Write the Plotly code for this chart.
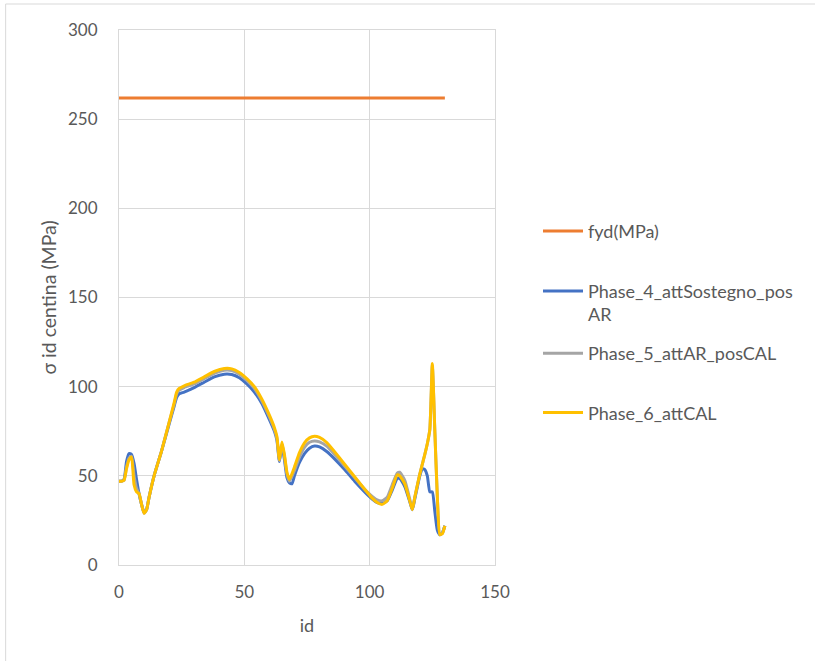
import plotly.graph_objects as go

# Design strength line
fyd_id = [0, 130]
fyd_val = [261.9, 261.9]

# Phase_4_attSostegno_posAR
p4_id = [0, 1, 2, 3, 4, 5, 6, 7, 8, 9, 10, 11, 12, 14, 17, 20, 22, 23, 24, 26, 30, 34, 38, 42, 45,
         48, 51, 54, 57, 60, 62, 63, 64, 65, 66, 67, 68, 69, 70, 72, 74, 76, 78, 80, 83, 86, 90, 94,
         98, 101, 103, 105, 107, 109, 111, 112, 114, 116, 117, 118, 120, 121, 122, 123, 124, 125,
         126, 127, 128, 129, 130]
p4_val = [47, 47, 48, 58, 62.5, 62, 57, 48, 40, 34, 29.5, 31, 38, 50, 64, 79, 89, 94, 96, 97, 99.5,
          102.5, 105.5, 107, 106.8, 105, 101.5, 97, 90.5, 81.5, 75, 70, 58, 67, 59, 49, 46, 45.5, 50,
          57.5, 62.5, 65.5, 66.7, 66.2, 63.5, 59.5, 53.5, 47, 41, 37, 35, 34.5, 36, 42, 48.5, 48.5,
          44, 35.5, 31, 37, 50, 54, 53.5, 50, 41, 41, 30, 19.5, 17, 18, 22]

# Phase_5_attAR_posCAL
p5_id = [0, 1, 2, 3, 4, 5, 6, 7, 8, 9, 10, 11, 12, 14, 17, 20, 22, 23, 24, 26, 30, 34, 38, 42, 45,
         48, 51, 54, 57, 60, 62, 63, 64, 65, 66, 67, 68, 70, 72, 74, 76, 78, 80, 83, 86, 90, 94, 98,
         101, 103, 105, 107, 109, 111, 112, 114, 116, 117, 118, 120, 122, 123, 124, 125, 126, 127,
         128, 129, 130]
p5_val = [47, 47, 47.5, 55, 60, 61, 50, 43, 40, 34, 29, 31, 38, 50, 64, 80, 90, 96, 98, 99.5, 101.5,
          104.5, 107.5, 109.2, 109, 107, 103.5, 99, 92, 83, 76, 71, 58.5, 68, 61, 51, 47, 53, 60.5,
          66, 68.8, 69.6, 69, 66.5, 62, 55.5, 49, 42.5, 38.5, 36.5, 36, 38, 45, 51.5, 52, 47.5, 37,
          31, 38, 51, 62, 68, 76, 112, 75, 38, 17, 18, 22]

# Phase_6_attCAL
p6_id = [0, 1, 2, 3, 4, 5, 6, 7, 8, 9, 10, 11, 12, 14, 17, 20, 22, 23, 24, 26, 30, 34, 38, 42, 45,
         48, 51, 54, 57, 60, 62, 63, 64, 65, 66, 67, 68, 70, 72, 74, 76, 78, 80, 83, 86, 90, 94, 98,
         101, 103, 105, 107, 109, 111, 112, 114, 116, 117, 118, 120, 122, 123, 124, 125, 126, 127,
         128, 129, 130]
p6_val = [47, 47, 47.5, 54, 59, 60.5, 45, 41, 40, 34, 29, 31, 38, 50, 64, 80, 91, 97, 99, 100.5,
          102.5, 105.5, 108.5, 110.2, 110, 108, 104.5, 100, 93, 84, 77, 72, 59, 69, 62, 52, 48, 55,
          63, 68.5, 71.3, 72.2, 71.5, 68.5, 63.5, 56.5, 49.5, 42.5, 37.5, 35, 34, 36, 43, 50.5, 50,
          45.5, 36, 31, 38, 51, 62, 68, 76, 113, 75, 38, 17, 17.5, 22]

names = ["fyd(MPa)", "Phase_4_attSostegno_pos<br>AR", "Phase_5_attAR_posCAL", "Phase_6_attCAL"]
colors = ["#ED7D31", "#4472C4", "#A5A5A5", "#FFC000"]
series = [(fyd_id, fyd_val), (p4_id, p4_val), (p5_id, p5_val), (p6_id, p6_val)]
legend_keys = ["legend", "legend2", "legend3", "legend4"]
legend_y_px = [231.7, 291.7, 354, 413.3]

W, H = 815, 661
FONT = "Lato"
TXT = "#595959"
GRID = "#D9D9D9"

fig = go.Figure()
for (xs, ys), nm, col, lk in zip(series, names, colors, legend_keys):
    fig.add_trace(go.Scatter(
        x=xs, y=ys, name=nm, mode="lines",
        line=dict(color=col, width=3, shape="spline", smoothing=0.5),
        legend=lk,
    ))

legend_common = dict(
    xref="container", yref="container", xanchor="left", yanchor="top",
    font=dict(family=FONT, size=18, color=TXT), bgcolor="rgba(0,0,0,0)",
    itemwidth=40, valign="top",
)
legend_layout = {}
for lk, ypx in zip(legend_keys, legend_y_px):
    legend_layout[lk] = dict(legend_common, x=538 / W, y=1 - (ypx - 19) / H)

fig.update_layout(
    width=W, height=H,
    margin=dict(l=118.5, r=W - 495, t=30, b=H - 565),
    paper_bgcolor="white", plot_bgcolor="white",
    font=dict(family=FONT, size=17, color=TXT),
    showlegend=True,
    **legend_layout,
    xaxis=dict(
        range=[0, 150], tickvals=[0, 50, 100, 150], showgrid=True, gridcolor=GRID, gridwidth=1,
        zeroline=False, showline=True, linecolor=GRID, mirror=True, ticks="",
        ticklabelstandoff=12, tickfont=dict(family=FONT, size=17, color=TXT),
        title=dict(text="id", font=dict(family=FONT, size=18, color=TXT), standoff=17),
    ),
    yaxis=dict(
        range=[0, 300], tickvals=[0, 50, 100, 150, 200, 250, 300], showgrid=True, gridcolor=GRID,
        gridwidth=1, zeroline=False, showline=True, linecolor=GRID, mirror=True, ticks="",
        ticklabelstandoff=17, tickfont=dict(family=FONT, size=17, color=TXT),
        title=dict(text="σ id centina (MPa)", font=dict(family=FONT, size=19.5, color=TXT), standoff=6),
    ),
    shapes=[dict(
        type="rect", xref="paper", yref="paper",
        x0=(5 - 118.5) / 376.5, x1=2.0, y0=-0.5, y1=(565 - 4) / 535,
        line=dict(color=GRID, width=1), fillcolor="rgba(0,0,0,0)", layer="below",
    )],
)

fig.write_html("out.html")
